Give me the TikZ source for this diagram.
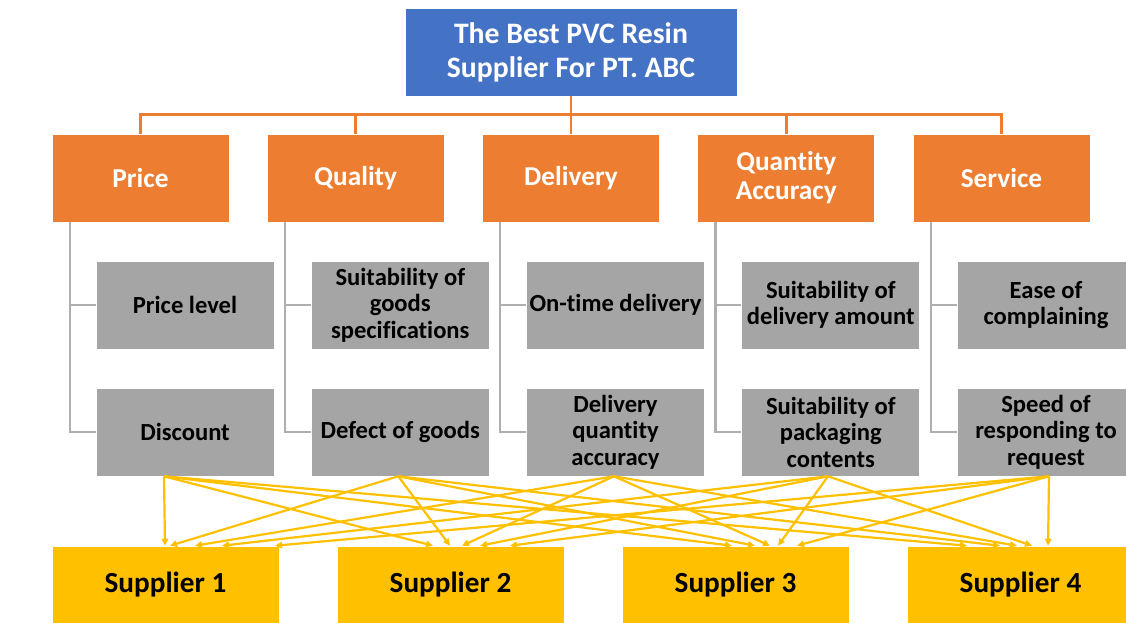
\documentclass[tikz,border=0pt]{standalone}
\usepackage{fontspec}
\setmainfont{Carlito}[Ligatures=NoCommon]
\usetikzlibrary{arrows.meta}
\definecolor{titleblue}{HTML}{4472C4}
\definecolor{catorange}{HTML}{ED7D31}
\definecolor{critgray}{HTML}{A5A5A5}
\definecolor{linegray}{HTML}{AFAFAF}
\definecolor{supyellow}{HTML}{FFC000}
\begin{document}
\begin{tikzpicture}[x=1pt,y=-1pt,
  box/.style={rectangle, draw=white, line width=0.6pt, inner sep=0pt, align=center},
  titlebox/.style={box, fill=titleblue, text=white, minimum width=332pt, minimum height=88pt,
    font=\bfseries\fontsize{29.7}{34}\selectfont},
  catbox/.style={box, fill=catorange, text=white, minimum width=177pt, minimum height=88pt,
    font=\bfseries\fontsize{27.3}{29}\selectfont},
  critbox/.style={box, fill=critgray, text=black, minimum width=178pt, minimum height=88pt,
    font=\bfseries\fontsize{24.6}{26.5}\selectfont},
  supbox/.style={box, fill=supyellow, text=black, minimum width=227pt, minimum height=78pt,
    font=\bfseries\fontsize{29.2}{32}\selectfont},
  orgline/.style={draw=catorange, line width=2.6pt},
  grayline/.style={draw=linegray, line width=2.4pt},
  arr/.style={draw=supyellow, line width=2.2pt, -{Triangle[length=7pt,width=6.5pt]}}
]
\useasboundingbox (0,0) rectangle (1126,622);
\clip (0,0) rectangle (1126,622);

% goal
\node[titlebox] (goal) at (571,52) {The Best PVC Resin\\Supplier For PT. ABC};

% criteria
\node[catbox] (c1) at (140.5,178)  {Price};
\node[catbox] (c2) at (355.75,178) {Quality};
\node[catbox] (c3) at (571,178)    {Delivery};
\node[catbox] (c4) at (786.25,178) {Quantity\\Accuracy};
\node[catbox] (c5) at (1001.5,178) {Service};

% sub-criteria, upper row
\node[critbox] (b1) at (185,305)    {Price level};
\node[critbox] (b2) at (400.25,305) {Suitability of\\goods\\specifications};
\node[critbox] (b3) at (615.5,305)  {On-time delivery};
\node[critbox] (b4) at (830.75,305) {Suitability of\\delivery amount};
\node[critbox] (b5) at (1046,305)   {Ease of\\complaining};

% sub-criteria, lower row
\node[critbox] (d1) at (185,432)    {Discount};
\node[critbox] (d2) at (400.25,432) {Defect of goods};
\node[critbox] (d3) at (615.5,432)  {Delivery\\quantity\\accuracy};
\node[critbox] (d4) at (830.75,432) {Suitability of\\packaging\\contents};
\node[critbox] (d5) at (1046,432)   {Speed of\\responding to\\request};

% alternatives
\node[supbox] (p1) at (165.5,585)  {Supplier 1};
\node[supbox] (p2) at (450.5,585)  {Supplier 2};
\node[supbox] (p3) at (735.5,585)  {Supplier 3};
\node[supbox] (p4) at (1020.5,585) {Supplier 4};

% goal -> criteria bus
\draw[orgline] (goal.south) -- ++(0,19);
\draw[orgline] (c1.north) -- ++(0,-19) -| (c5.north);
\foreach \c in {c2,c3,c4}
  \draw[orgline] (\c.north) -- ++(0,-19);

% criteria -> sub-criteria trunks
\foreach \i in {1,...,5} {
  \draw[grayline] ([xshift=18pt]c\i.south west) |- (b\i.west);
  \draw[grayline] ([xshift=18pt]c\i.south west) |- (d\i.west);
}

% arrow origins under the lower row
\coordinate (s1) at ([xshift=-21pt]d1.south);
\coordinate (s2) at ([xshift=-2pt]d2.south);
\coordinate (s3) at ([xshift=-1.5pt]d3.south);
\coordinate (s4) at ([xshift=-2.75pt]d4.south);
\coordinate (s5) at ([xshift=3pt]d5.south);

% every sub-criterion feeds every supplier
\foreach \p/\offs in {p1/{-0.5,4.5,29.5,56.5,109.5},
                      p2/{-17.5,-0.5,11.5,29.5,59.5},
                      p3/{-3.5,19.5,34.5,42.5,61.5},
                      p4/{-53.5,-20.5,-3.5,11.5,27.5}} {
  \foreach \o [count=\i] in \offs
    \draw[arr] (s\i) -- ([xshift=\o pt]\p.north);
}
\end{tikzpicture}
\end{document}
